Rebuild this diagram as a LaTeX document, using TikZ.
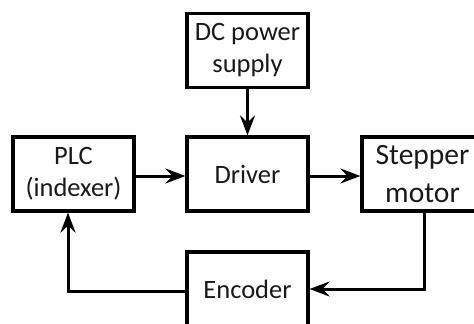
\documentclass[tikz,border=0pt]{standalone}
\usepackage{fontspec}
\setmainfont{Carlito}
\usetikzlibrary{arrows.meta,calc}
\begin{document}
\begin{tikzpicture}[x=1pt,y=-1pt,
  blockbox/.style={draw=black, line width=3.2pt, minimum width=121pt, minimum height=74pt,
    inner sep=0pt, align=center, text=black!90, font=\fontsize{26.5}{32}\selectfont},
  bigtext/.style={font=\fontsize{29.5}{38}\selectfont},
  conn/.style={line width=3pt, -{Stealth[length=20pt,width=15pt,inset=7pt]}}]
\useasboundingbox (0,0) rectangle (474,324);
\node[blockbox] (dc) at (247.5,50.5) {DC power\\supply};
\node[blockbox] (plc) at (73.5,174) {PLC\\(indexer)};
\node[blockbox] (drv) at (247.5,174) {Driver};
\node[blockbox,bigtext] (stp) at (422.5,174) {Stepper\\motor};
\node[blockbox] (enc) at (247.5,289) {Encoder};
\draw[conn] (dc.south) -- (drv.north);
\draw[conn] ([yshift=-2pt]plc.east) -- ([yshift=-2pt]drv.west);
\draw[conn] ([yshift=-2pt]drv.east) -- ([yshift=-2pt]stp.west);
\draw[conn] ([xshift=1.5pt]stp.south) |- (enc.east);
\draw[conn] ([yshift=-2pt]enc.west) -| ([xshift=-5.5pt]plc.south);
\end{tikzpicture}
\end{document}
